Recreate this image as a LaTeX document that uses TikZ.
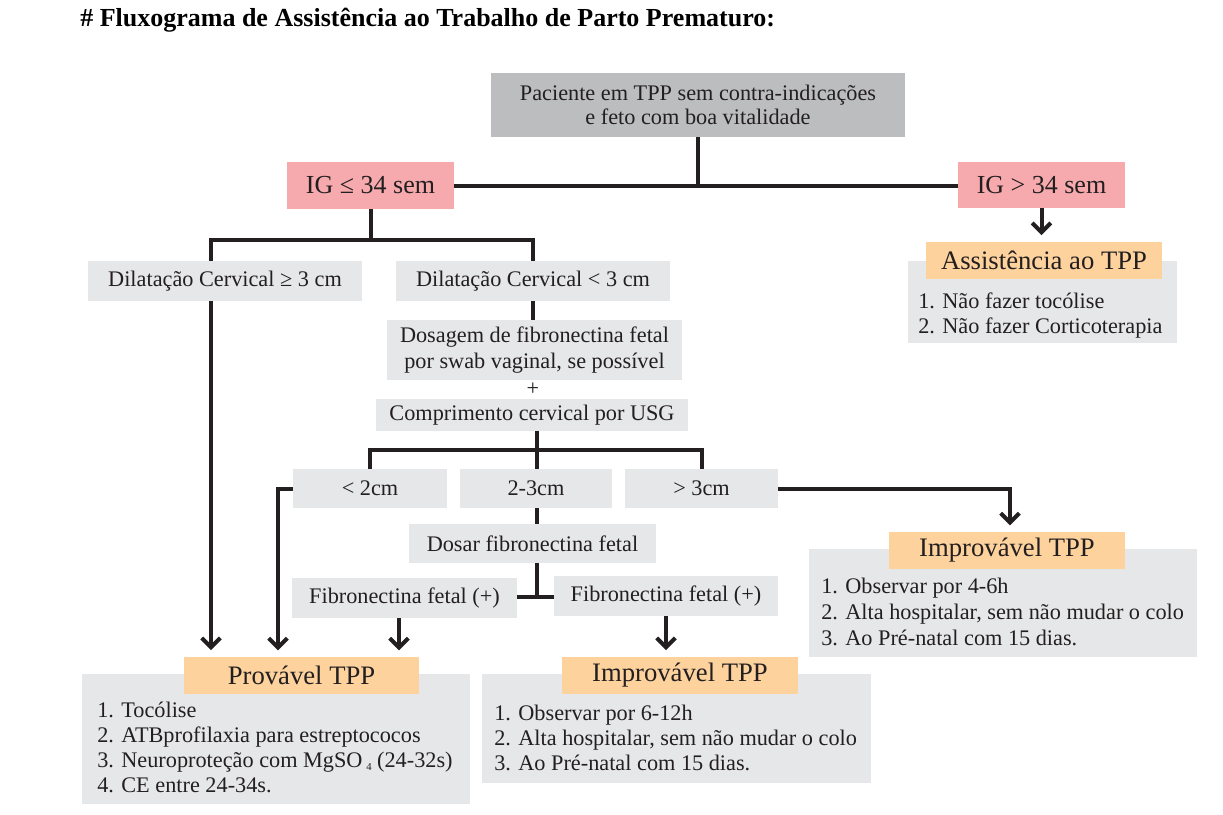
\documentclass[tikz,border=0pt]{standalone}
\usepackage{fontspec}
\setmainfont{Liberation Serif}
\usetikzlibrary{arrows.meta}
\definecolor{lgray}{HTML}{E6E7E8}
\definecolor{tgray}{HTML}{BCBDBF}
\definecolor{pinkc}{HTML}{F7AAAD}
\definecolor{orangec}{HTML}{FDD29D}
\definecolor{linec}{HTML}{231F20}
\newcommand\fsz[2]{\fontsize{#1}{#2}\selectfont}
\newcommand\bx[7]{\node[#6, minimum width={(#4-#2)*0.75pt}, minimum height={(#5-#3)*0.75pt}] (#1) at ({(#2+#4)/2},{(#3+#5)/2}) {#7};}
\tikzset{
  box/.style={rectangle, inner sep=0pt, align=center, text=linec, font=\fsz{16.7}{19}},
  gbox/.style={box, fill=lgray},
  topbox/.style={box, fill=tgray, font=\fsz{16.7}{18}},
  pinkbox/.style={box, fill=pinkc, font=\fsz{19.5}{22}},
  hdr/.style={box, fill=orangec, font=\fsz{20}{22}},
  lst/.style={anchor=base west, inner sep=0pt, align=left, text=linec, font=\fsz{16.7}{18.75}},
  conn/.style={line width=3pt, draw=linec},
  arr/.style={conn, -{Straight Barb[length=7pt,width=14pt]}, shorten >=5pt}
}
\begin{document}
\begin{tikzpicture}[x=0.75pt,y=-0.75pt]
\useasboundingbox (0,0) rectangle (1223,814);
% title
\node[anchor=base west, inner sep=0pt, text=black, font=\bfseries\fsz{19.5}{22}] (title) at (80,26) {\# Fluxograma de Assistência ao Trabalho de Parto Prematuro:};
% top
\bx{top}{491}{73}{905}{137}{topbox}{Paciente em TPP sem contra-indicações\\e feto com boa vitalidade}
\bx{igL}{287}{162}{454}{209}{pinkbox}{IG ≤ 34 sem}
\bx{igR}{958}{162}{1125}{208}{pinkbox}{IG > 34 sem}
% right branch
\bx{asB}{908}{261}{1177}{343}{gbox}{}
\bx{asH}{926}{242}{1162}{279}{hdr}{Assistência ao TPP}
% base anchor = baseline of the last line
\node[lst] (asL) at (918,333) {1. Não fazer tocólise\\2. Não fazer Corticoterapia};
% dilatation
\bx{dilGE}{88}{261}{362}{301}{gbox}{Dilatação Cervical ≥ 3 cm}
\bx{dilLT}{396}{261}{670}{301}{gbox}{Dilatação Cervical < 3 cm}
\bx{dos}{387}{320}{682}{380}{gbox}{Dosagem de fibronectina fetal\\por swab vaginal, se possível}
\node[box] (plus) at (533,389) {+};
\bx{comp}{376}{399}{688}{431}{gbox}{Comprimento cervical por USG}
\bx{lt2}{293}{469}{447}{508}{gbox}{< 2cm}
\bx{b23}{460}{469}{612}{508}{gbox}{2-3cm}
\bx{gt3}{625}{469}{778}{508}{gbox}{> 3cm}
\bx{dosar}{409}{524}{656}{563}{gbox}{Dosar fibronectina fetal}
\bx{fibL}{292}{578}{517}{618}{gbox}{Fibronectina fetal (+)}
\bx{fibR}{554}{576}{778}{616}{gbox}{Fibronectina fetal (+)}
% outcome boxes
\bx{impRB}{809}{549}{1197}{657}{gbox}{}
\bx{impR}{889}{532}{1125}{569}{hdr}{Improvável TPP}
\node[lst, font=\fsz{16.7}{19.3}] (impRL) at (821,645) {1. Observar por 4-6h\\2. Alta hospitalar, sem não mudar o colo\\3. Ao Pré-natal com 15 dias.};
\bx{provB}{82}{674}{470}{804}{gbox}{}
\bx{provH}{184}{657}{419}{694}{hdr}{Provável TPP}
\node[lst] (provL) at (97,792) {1. Tocólise\\2. ATBprofilaxia para estreptococos\\3. Neuroproteção com MgSO\,\raisebox{-0.35ex}{\fsz{8}{8}4}\ (24-32s)\\4. CE entre 24-34s.};
\bx{impMB}{482}{674}{871}{783}{gbox}{}
\bx{impM}{562}{657}{798}{694}{hdr}{Improvável TPP}
\node[lst] (impML) at (494,770) {1. Observar por 6-12h\\2. Alta hospitalar, sem não mudar o colo\\3. Ao Pré-natal com 15 dias.};
% connectors
\draw[conn] (top.south) -- (top.south |- igL.east);
\draw[conn] (igL.east) -- (igL.east -| igR.west);
\draw[arr] (igR.south) -- (igR.south |- asH.north);
\coordinate (d1) at (211,240);
\draw[conn] (igL.south) -- (igL.south |- d1);
\draw[conn] (dilGE.north -| d1) -- (d1) -- (d1 -| dilLT.north) -- (dilLT.north);
\draw[arr] (dilGE.south -| d1) -- (d1 |- provH.north);
\draw[conn] (dilLT.south) -- (dos.north -| dilLT.south);
\coordinate (d2) at (537,450);
\draw[conn] (comp.south -| d2) -- (d2);
\draw[conn] (lt2.north) |- (d2) -| (gt3.north);
\draw[conn] (d2) -- (d2 |- b23.north);
\coordinate (c1) at (278,657);
\draw[arr] (lt2.west) -| (c1);
\coordinate (c2) at (1010,532);
\draw[arr] (gt3.east) -| (c2);
\draw[conn] (b23.south -| d2) -- (dosar.north -| d2);
\coordinate (d3) at (537,597);
\draw[conn] (dosar.south -| d2) -- (d3);
\draw[conn] (fibL.east |- d3) -- (fibR.west |- d3);
\coordinate (c3) at (399,657);
\draw[arr] (fibL.south -| c3) -- (c3);
\draw[arr] (fibR.south) -- (fibR.south |- impM.north);
\end{tikzpicture}
\end{document}
